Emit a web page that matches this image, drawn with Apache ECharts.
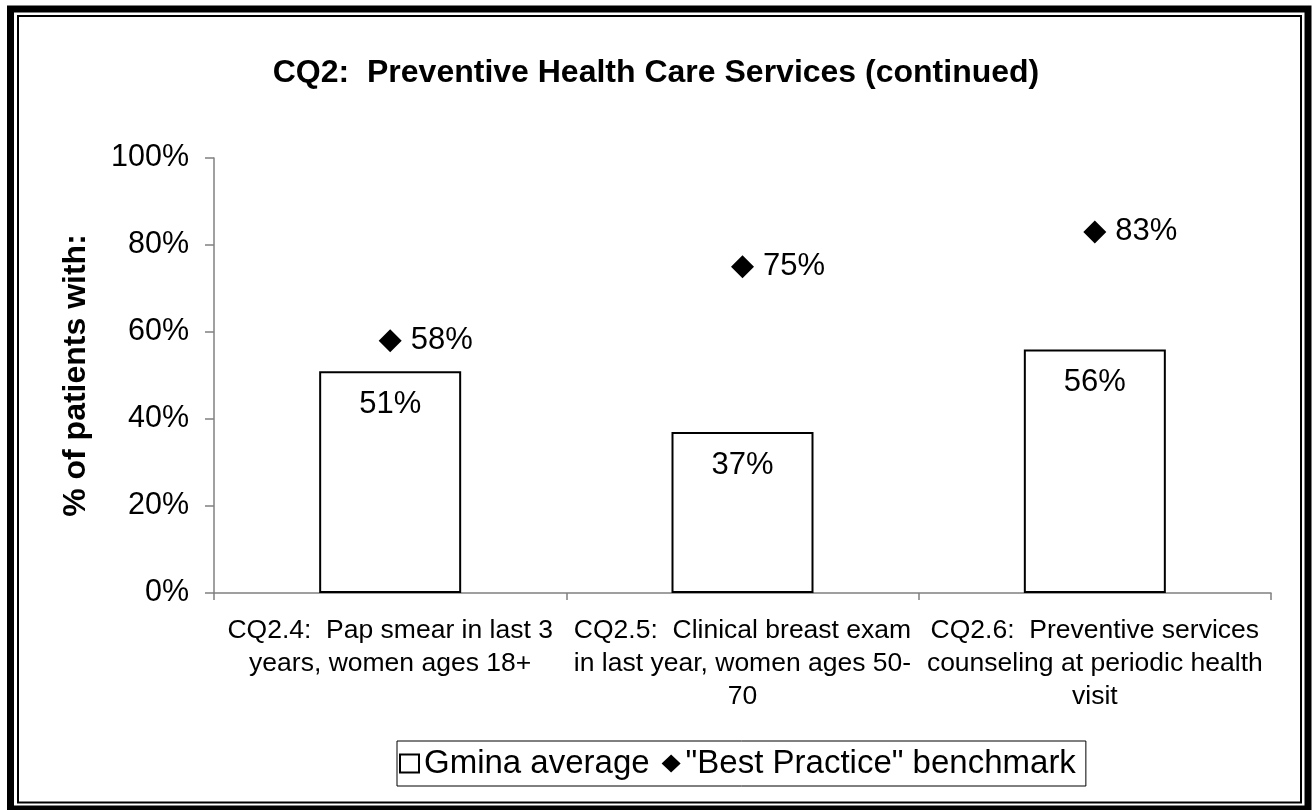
<!DOCTYPE html>
<html>
<head>
<meta charset="utf-8">
<script src="https://cdn.jsdelivr.net/npm/echarts@6/dist/echarts.min.js"></script>
<style>
html,body{margin:0;padding:0;background:#fff;}
#chart{width:1312px;height:810px;}
</style>
</head>
<body>
<div id="chart"></div>
<script>
const titleText = 'CQ2:  Preventive Health Care Services (continued)';
const yAxisTitle = '% of patients with:';
const categories = [
  'CQ2.4:  Pap smear in last 3\nyears, women ages 18+',
  'CQ2.5:  Clinical breast exam\nin last year, women ages 50-\n70',
  'CQ2.6:  Preventive services\ncounseling at periodic health\nvisit'
];
const seriesNames = ['Gmina average', '"Best Practice" benchmark'];
const gminaAverage = [51, 37, 56];
const bestPractice = [58, 75, 83];
const yTicks = [0, 20, 40, 60, 80, 100];

const FONT = '"Liberation Sans", Arial, sans-serif';
const chart = echarts.init(document.getElementById('chart'));
chart.setOption({
  animation: false,
  backgroundColor: '#fff',
  textStyle: { fontFamily: FONT, color: '#000' },
  graphic: [
    { type: 'rect', silent: true, shape: { x: 10.5, y: 9, width: 1297.5, height: 800 },
      style: { fill: null, stroke: '#000', lineWidth: 7 } },
    { type: 'rect', silent: true, shape: { x: 18, y: 16, width: 1283, height: 786.5 },
      style: { fill: null, stroke: '#000', lineWidth: 2 } }
  ],
  title: {
    text: titleText,
    left: 'center',
    top: 52,
    textStyle: { fontFamily: FONT, fontSize: 32, fontWeight: 'bold', color: '#000' }
  },
  legend: {
    left: 397,
    top: 741,
    orient: 'horizontal',
    padding: [6, 10, 6, 2],
    itemGap: 12,
    itemWidth: 19,
    itemHeight: 18,
    borderColor: '#000',
    borderWidth: 1,
    textStyle: { fontFamily: FONT, fontSize: 33, color: '#000' },
    data: [
      { name: seriesNames[0], icon: 'rect', itemStyle: { color: '#fff', borderColor: '#000', borderWidth: 2, opacity: 1 } },
      { name: seriesNames[1], icon: 'diamond', itemStyle: { color: '#000', opacity: 1 } }
    ]
  },
  grid: { left: 214, right: 41, top: 158, bottom: 217, containLabel: false },
  xAxis: {
    type: 'category',
    data: categories,
    axisLine: { lineStyle: { color: '#808080', width: 1.5 } },
    axisTick: { show: true, alignWithLabel: false, length: 7, lineStyle: { color: '#808080', width: 1.5 } },
    axisLabel: {
      interval: 0, margin: 21, fontFamily: FONT, fontSize: 26.5, lineHeight: 33, color: '#000', align: 'center'
    },
    splitLine: { show: false }
  },
  yAxis: {
    type: 'value',
    min: 0, max: 100, interval: 20,
    name: yAxisTitle,
    nameLocation: 'middle',
    nameRotate: 90,
    nameGap: 122,
    nameTextStyle: { fontFamily: FONT, fontSize: 32, fontWeight: 'bold', color: '#000' },
    axisLine: { show: true, lineStyle: { color: '#808080', width: 1.5 } },
    axisTick: { show: true, length: 9, lineStyle: { color: '#808080', width: 1.5 } },
    axisLabel: {
      margin: 25, fontFamily: FONT, fontSize: 30.5, color: '#000',
      formatter: v => (yTicks.indexOf(v) >= 0 ? v + '%' : '')
    },
    splitLine: { show: false }
  },
  series: [
    {
      name: seriesNames[0],
      type: 'bar',
      data: gminaAverage,
      barWidth: 142,
      itemStyle: { color: '#fff', borderColor: '#000', borderWidth: 2 },
      label: {
        show: true, position: 'insideTop', distance: 18,
        fontFamily: FONT, fontSize: 31, color: '#000',
        formatter: p => p.value + '%'
      }
    },
    {
      name: seriesNames[1],
      type: 'scatter',
      data: bestPractice,
      symbol: 'diamond',
      symbolSize: 23,
      itemStyle: { color: '#000', opacity: 1 },
      label: {
        show: true, position: 'right', distance: 9,
        fontFamily: FONT, fontSize: 31, color: '#000',
        formatter: p => p.value + '%'
      }
    }
  ]
});
</script>
</body>
</html>
